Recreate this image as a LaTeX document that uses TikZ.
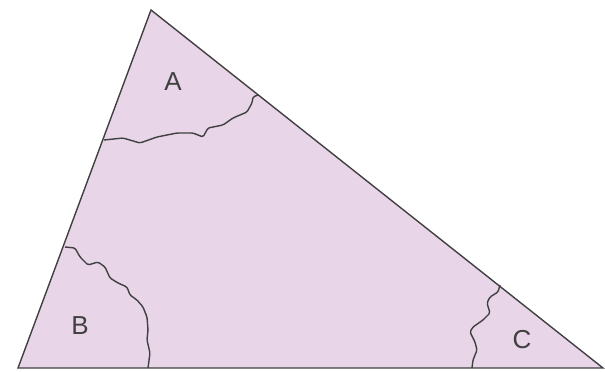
\documentclass[tikz,border=0pt]{standalone}
\usepackage{fontspec}
\setmainfont{Liberation Sans}
\usepackage{xcolor}
\usepackage{tikz}
\definecolor{paper}{HTML}{E8D6E8}
\definecolor{edge}{HTML}{404040}
\begin{document}
\begin{tikzpicture}[x=1pt,y=-1pt, every node/.style={font=\fontsize{26}{30}\selectfont,text=edge}, tri/.style={draw=edge,fill=paper,line width=1.4pt,line join=miter}, tear/.style={draw=edge,line width=1.4pt,line join=round,rounded corners=1.5pt}]
\useasboundingbox (0,0) rectangle (605,372);
\coordinate (top) at (151,10);
\coordinate (left) at (18,368);
\coordinate (right) at (603,368);
\draw[tri] (top)--(left)--(right)--cycle;
% torn edges near the corners
\draw[tear] (104,140)--(123,138)--(140,143)--(157,137)--(177,133)--(193,133)--(203,137)--(208,128)--(223,125)--(233,118)--(247,112)--(252,103)--(253,97)--(258,95);
\draw[tear] (65,247)--(75,248)--(80,257)--(88,265)--(98,262)--(105,267)--(110,278)--(118,283)--(127,287)--(130,295)--(137,300)--(143,307)--(147,317)--(148,330)--(147,340)--(150,353)--(148,368);
\draw[tear] (500,285)--(498,292)--(490,297)--(487,303)--(490,313)--(483,320)--(473,327)--(470,332)--(475,342)--(477,350)--(473,360)--(472,368);
\node (angA) at (173,82) {A};
\node (angB) at (80,326) {B};
\node (angC) at (522,340) {C};
\end{tikzpicture}
\end{document}
